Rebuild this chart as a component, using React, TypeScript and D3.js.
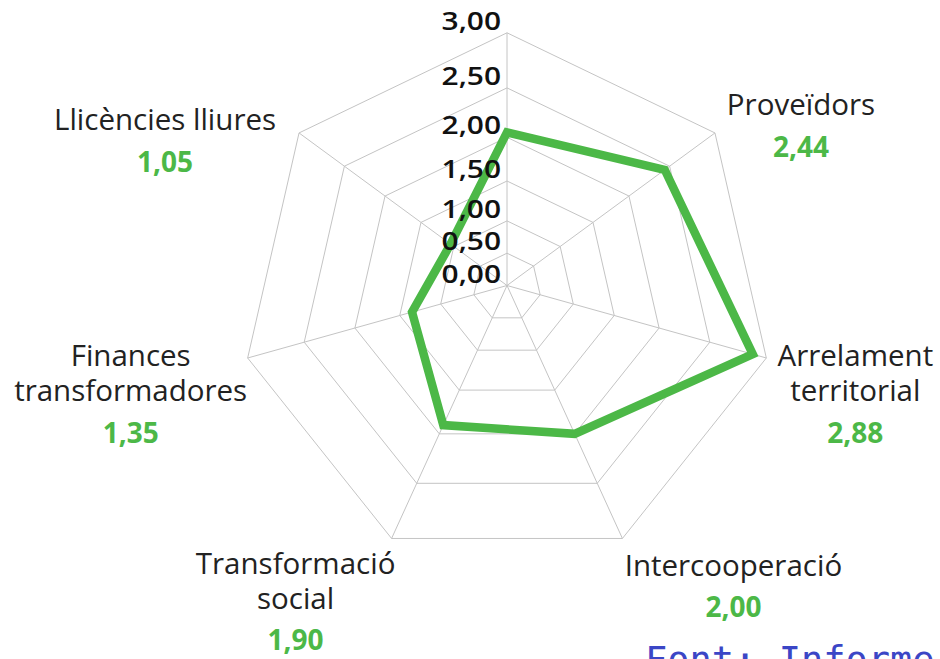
import React, { useEffect, useRef } from 'react';
import * as d3 from 'd3';

const categories = [
  '',
  'Proveïdors',
  'Arrelament\nterritorial',
  'Intercooperació',
  'Transformació\nsocial',
  'Finances\ntransformadores',
  'Llicències lliures',
];
const values = [2.05, 2.44, 2.88, 2.0, 1.9, 1.35, 1.05];
const ticks = [0, 0.5, 1, 1.5, 2, 2.5, 3];

const RadarChart: React.FC = () => {
  const svgRef = useRef<SVGSVGElement | null>(null);

  useEffect(() => {
    const svg = d3.select(svgRef.current);
    svg.selectAll('*').remove();

    const cx = 507;
    const cy = 285.5;
    const tilt = 0.05; // the source picture is slightly skewed downwards
    const n = categories.length;
    const green = '#4cb847';
    const font = "'Open Sans', sans-serif";

    // radial scale of the original is not linear
    const r = d3.scaleLinear().domain(ticks).range([0, 34, 68, 110, 156, 208, 266]);
    const fmt = d3.formatLocale({ decimal: ',', thousands: '.', grouping: [3], currency: ['', '€'] }).format('.2f');

    const dir = (i: number) => {
      const a = (i * 2 * Math.PI) / n;
      return [Math.sin(a), -Math.cos(a) + tilt];
    };
    const pt = (i: number, v: number): [number, number] => {
      const [ux, uy] = dir(i);
      return [cx + ux * r(v), cy + uy * r(v)];
    };

    const line = d3.line().curve(d3.curveLinearClosed);

    const grid = svg.append('g');
    ticks.filter((t) => t > 0).forEach((t) => {
      grid.append('path')
        .attr('d', line(d3.range(n).map((i) => pt(i, t))))
        .attr('fill', 'none')
        .attr('stroke', '#c4c4c4')
        .attr('stroke-width', 1);
    });
    d3.range(n).forEach((i) => {
      const [x, y] = pt(i, 3);
      grid.append('line')
        .attr('x1', cx).attr('y1', cy).attr('x2', x).attr('y2', y)
        .attr('stroke', '#c4c4c4')
        .attr('stroke-width', 1);
    });

    svg.append('path')
      .attr('d', line(values.map((v, i) => pt(i, v))))
      .attr('fill', 'none')
      .attr('stroke', green)
      .attr('stroke-width', 8.5)
      .attr('stroke-linejoin', 'miter');

    // tick labels along the top axis (glyphs are a bit wide in the original)
    svg.append('g')
      .selectAll('text')
      .data(ticks)
      .join('text')
      .attr('transform', (d) => `translate(501,${pt(0, d)[1] - 12}) scale(1.15,1)`)
      .attr('dy', '0.35em')
      .attr('text-anchor', 'end')
      .attr('font-family', font)
      .attr('font-size', 26)
      .attr('font-weight', 600)
      .attr('fill', '#111')
      .text((d) => fmt(d));

    // category labels, offset from the outer vertex
    const offsets: [number, number][] = [
      [0, 0], [86, -28], [89, -2], [111, 27], [-96, 25], [-117, -2], [-134, -13],
    ];
    categories.forEach((c, i) => {
      if (!c) return;
      const [vx, vy] = pt(i, 3);
      const x = vx + offsets[i][0];
      const y = vy + offsets[i][1];
      const lines = c.split('\n');
      const g = svg.append('g').attr('font-family', font).attr('text-anchor', 'middle');
      lines.forEach((l, k) => {
        g.append('text')
          .attr('x', x)
          .attr('y', y + k * 35)
          .attr('dy', '0.35em')
          .attr('font-size', 29.5)
          .attr('fill', '#222')
          .text(l);
      });
      g.append('text')
        .attr('x', x)
        .attr('y', y + (lines.length - 1) * 35 + 42)
        .attr('dy', '0.35em')
        .attr('font-size', 28)
        .attr('font-weight', 700)
        .attr('fill', green)
        .text(fmt(values[i]));
    });

    svg.append('text')
      .attr('x', 645)
      .attr('y', 673)
      .attr('font-family', "'DejaVu Sans Mono', monospace")
      .attr('font-size', 37)
      .attr('fill', '#3b46c6')
      .text('Font: Informe');
  }, []);

  return (
    <svg
      ref={svgRef}
      width="940"
      height="659"
      style={{ position: 'absolute', left: 0, top: 0, background: '#fff' }}
    />
  );
};

export default function App() {
  return <RadarChart />;
}
